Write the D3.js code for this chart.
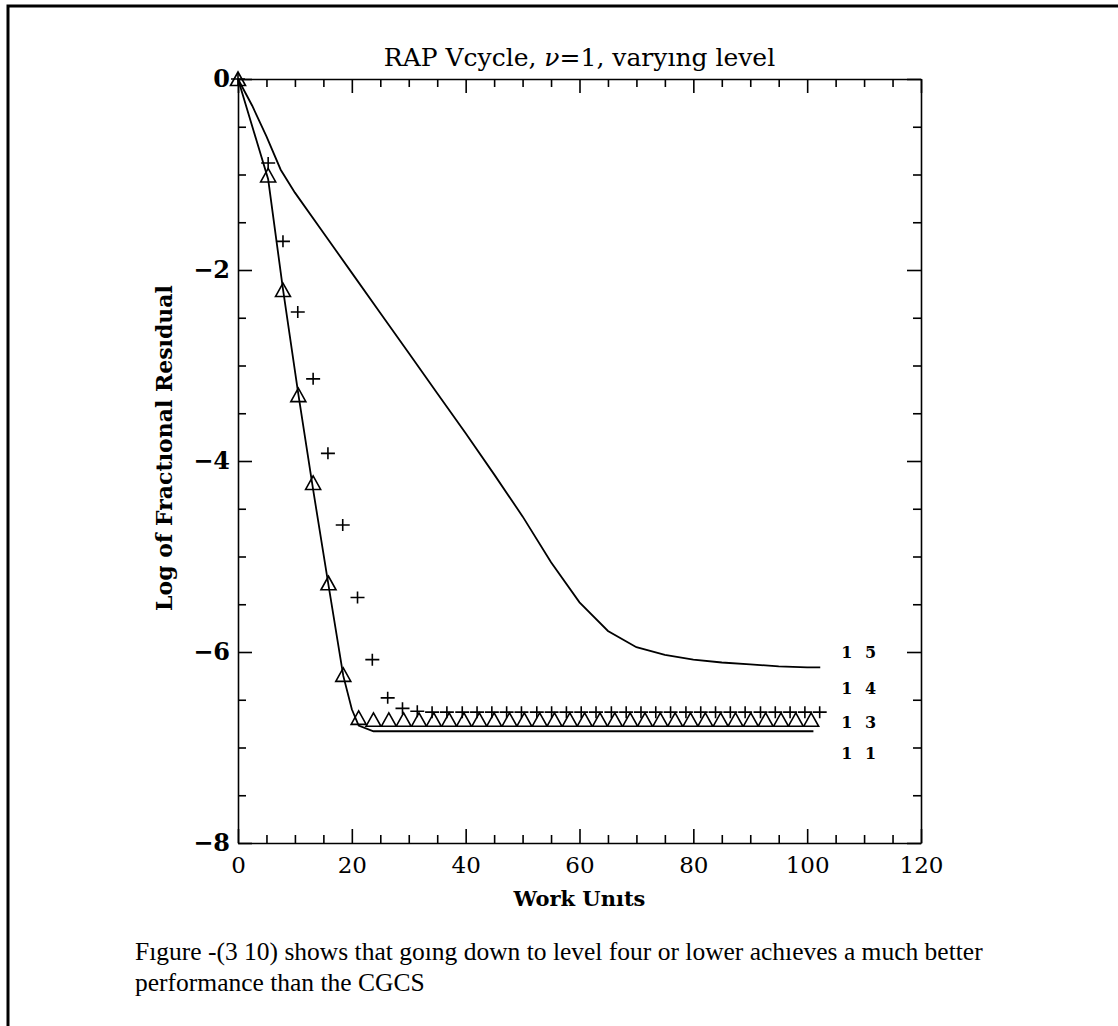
<!DOCTYPE html>
<html>
<head>
<meta charset="utf-8">
<script src="https://cdn.jsdelivr.net/npm/d3@7"></script>
<style>
  body { margin: 0; background: #fff; }
  svg { display: block; }
  .axis path, .axis line { stroke: #000; stroke-width: 1.6; }
  .axis text { font-family: "DejaVu Serif", serif; fill: #000; }
</style>
</head>
<body>
<script>
// level 5 (solid line, no markers)
const level5X = [0, 2.5, 5, 7.5, 10, 15, 20, 25, 30, 35, 40, 45, 50, 55, 60, 65, 70, 75, 80, 85, 90, 95, 100, 102.3];
const level5Y = [0, -0.28, -0.6, -0.95, -1.19, -1.61, -2.03, -2.45, -2.87, -3.29, -3.71, -4.14, -4.58, -5.06, -5.48, -5.78, -5.95, -6.03, -6.08, -6.11, -6.13, -6.15, -6.16, -6.16];

// level 4 (plus markers)
const level4X = [0, 5.3, 7.9, 10.5, 13.2, 15.8, 18.4, 21.0, 23.6, 26.3, 28.9, 31.5, 34.1, 36.7, 39.4, 42.0, 44.6, 47.2, 49.8, 52.5, 55.1, 57.7, 60.3, 62.9, 65.6, 68.2, 70.8, 73.4, 76.0, 78.7, 81.3, 83.9, 86.5, 89.1, 91.8, 94.4, 97.0, 99.6, 102.2];
const level4Y = [0, -0.88, -1.70, -2.44, -3.14, -3.92, -4.67, -5.43, -6.08, -6.48, -6.59, -6.62,
  -6.63, -6.63, -6.63, -6.63, -6.63, -6.63, -6.63, -6.63, -6.63, -6.63, -6.63, -6.63, -6.63, -6.63, -6.63,
  -6.63, -6.63, -6.63, -6.63, -6.63, -6.63, -6.63, -6.63, -6.63, -6.63, -6.63, -6.63];

// level 3 (triangle markers)
const level3X = [0, 5.3, 7.9, 10.6, 13.2, 15.9, 18.5, 21.2, 23.8, 26.5, 29.1, 31.8, 34.4, 37.1, 39.7, 42.4, 45.0, 47.7, 50.3, 53.0, 55.6, 58.3, 60.9, 63.6, 66.2, 68.9, 71.5, 74.2, 76.8, 79.5, 82.1, 84.8, 87.4, 90.1, 92.7, 95.4, 98.0, 100.7];
const level3Y = [0, -1.01, -2.21, -3.31, -4.23, -5.28, -6.24, -6.69,
  -6.71, -6.71, -6.71, -6.71, -6.71, -6.71, -6.71, -6.71, -6.71, -6.71, -6.71, -6.71, -6.71, -6.71, -6.71, -6.71, -6.71,
  -6.71, -6.71, -6.71, -6.71, -6.71, -6.71, -6.71, -6.71, -6.71, -6.71, -6.71, -6.71, -6.71];

// level 1 (solid line, no markers)
const level1X = [0, 5.3, 7.9, 10.6, 13.2, 15.9, 18.5, 20.0, 21.2, 23.8, 101.1];
const level1Y = [0, -1.05, -2.2, -3.3, -4.3, -5.3, -6.25, -6.6, -6.77, -6.83, -6.83];

const endLabels = ['1 5', '1 4', '1 3', '1 1'];
const endLabelY = [-6.0, -6.38, -6.74, -7.06];

const xMajor = [0, 20, 40, 60, 80, 100, 120];
const xMinor = [5, 10, 15, 25, 30, 35, 45, 50, 55, 65, 70, 75, 85, 90, 95, 105, 110, 115];
const yMajor = [0, -2, -4, -6, -8];
const yMinor = [-0.5, -1, -1.5, -2.5, -3, -3.5, -4.5, -5, -5.5, -6.5, -7, -7.5];

const width = 1118, height = 1026;
const margin = {top: 79, left: 238, bottom: 183, right: 197};

const svg = d3.select('body').append('svg').attr('width', width).attr('height', height);
svg.append('rect').attr('width', width).attr('height', height).attr('fill', '#fff');

// page border (top + left)
svg.append('path').attr('d', `M8,${height} V6 H${width}`)
  .attr('fill', 'none').attr('stroke', '#000').attr('stroke-width', 3);

const x = d3.scaleLinear().domain([0, 120]).range([margin.left, width - margin.right]);
const y = d3.scaleLinear().domain([-8, 0]).range([height - margin.bottom, margin.top]);

const yBot = y(-8), yTop = y(0), xLeft = x(0), xRight = x(120);

// major + minor ticks, all four sides, pointing inward
svg.append('g').attr('class', 'axis').attr('transform', `translate(0,${yBot})`)
  .call(d3.axisBottom(x).tickValues(xMajor).tickSize(-14).tickPadding(20).tickSizeOuter(0))
  .call(g => g.selectAll('text').attr('font-size', 23).attr('dy', '0.45em'));
svg.append('g').attr('class', 'axis').attr('transform', `translate(0,${yBot})`)
  .call(d3.axisBottom(x).tickValues(xMinor).tickSize(-8).tickFormat('').tickSizeOuter(0))
  .call(g => g.select('.domain').remove());
svg.append('g').attr('class', 'axis').attr('transform', `translate(0,${yTop})`)
  .call(d3.axisTop(x).tickValues(xMajor).tickSize(-14).tickFormat('').tickSizeOuter(0));
svg.append('g').attr('class', 'axis').attr('transform', `translate(0,${yTop})`)
  .call(d3.axisTop(x).tickValues(xMinor).tickSize(-8).tickFormat('').tickSizeOuter(0))
  .call(g => g.select('.domain').remove());

svg.append('g').attr('class', 'axis').attr('transform', `translate(${xLeft},0)`)
  .call(d3.axisLeft(y).tickValues(yMajor).tickSize(-14).tickPadding(8).tickSizeOuter(0)
    .tickFormat(d => d === 0 ? '0' : '\u2212' + Math.abs(d)))
  .call(g => g.selectAll('text').attr('font-size', 24).attr('font-weight', 'bold'));
svg.append('g').attr('class', 'axis').attr('transform', `translate(${xLeft},0)`)
  .call(d3.axisLeft(y).tickValues(yMinor).tickSize(-8).tickFormat('').tickSizeOuter(0))
  .call(g => g.select('.domain').remove());
svg.append('g').attr('class', 'axis').attr('transform', `translate(${xRight},0)`)
  .call(d3.axisRight(y).tickValues(yMajor).tickSize(-14).tickFormat('').tickSizeOuter(0));
svg.append('g').attr('class', 'axis').attr('transform', `translate(${xRight},0)`)
  .call(d3.axisRight(y).tickValues(yMinor).tickSize(-8).tickFormat('').tickSizeOuter(0))
  .call(g => g.select('.domain').remove());

// curves
const line = d3.line().x(d => x(d[0])).y(d => y(d[1]));
const lineStyle = sel => sel.attr('fill', 'none').attr('stroke', '#000').attr('stroke-width', 1.8);

svg.append('path').datum(d3.zip(level5X, level5Y)).attr('d', line).call(lineStyle);
svg.append('path').datum(d3.zip(level1X, level1Y)).attr('d', line).call(lineStyle);

svg.append('g').selectAll('path').data(d3.zip(level4X, level4Y)).join('path')
  .attr('d', d => `M${x(d[0]) - 7},${y(d[1])}h14M${x(d[0])},${y(d[1]) - 6}v12`)
  .attr('fill', 'none').attr('stroke', '#000').attr('stroke-width', 1.6);

svg.append('g').selectAll('path').data(d3.zip(level3X, level3Y)).join('path')
  .attr('d', d => `M${x(d[0]) - 7.5},${y(d[1]) + 6.5}L${x(d[0])},${y(d[1]) - 7}L${x(d[0]) + 7.5},${y(d[1]) + 6.5}Z`)
  .attr('fill', 'none').attr('stroke', '#000').attr('stroke-width', 1.6);

// curve labels
svg.append('g').selectAll('text').data(d3.zip(endLabels, endLabelY)).join('text')
  .attr('x', x(106)).attr('y', d => y(d[1]))
  .attr('dy', '0.35em')
  .attr('font-family', '"DejaVu Serif", serif').attr('font-weight', 'bold').attr('font-size', 16)
  .attr('word-spacing', 7)
  .text(d => d[0]);

// title
const title = svg.append('text').attr('x', (xLeft + xRight) / 2).attr('y', 66)
  .attr('text-anchor', 'middle').attr('font-family', '"DejaVu Serif", serif').attr('font-size', 25);
title.append('tspan').text('RAP Vcycle, ');
title.append('tspan').attr('font-style', 'italic').text('\u03bd');
title.append('tspan').text('=1, varyıng level');

// axis titles
svg.append('text').attr('x', (xLeft + xRight) / 2).attr('y', 906)
  .attr('text-anchor', 'middle').attr('font-family', '"DejaVu Serif", serif')
  .attr('font-weight', 'bold').attr('font-size', 21).text('Work Unıts');
svg.append('text').attr('transform', `translate(172,448) rotate(-90)`)
  .attr('text-anchor', 'middle').attr('font-family', '"DejaVu Serif", serif')
  .attr('font-weight', 'bold').attr('font-size', 22).text('Log of Fractıonal Resıdual');

// caption
const caption = ['Fıgure -(3 10) shows that goıng down to level four or lower achıeves a much better',
  'performance than the CGCS'];
svg.append('g').selectAll('text').data(caption).join('text')
  .attr('x', 135).attr('y', (d, i) => 960 + i * 31)
  .attr('font-family', '"Liberation Serif", serif').attr('font-size', 25.5)
  .text(d => d);
</script>
</body>
</html>
